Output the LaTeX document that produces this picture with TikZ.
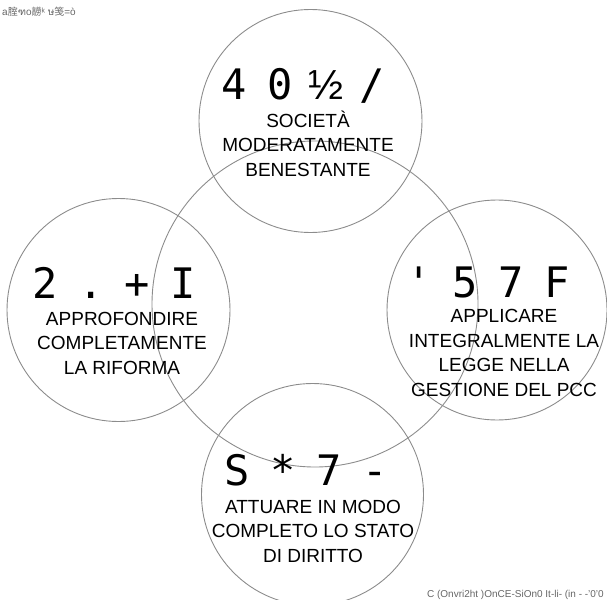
\documentclass[tikz,border=0pt]{standalone}
\usepackage{fontspec}
\setmainfont{Liberation Sans}
\setmonofont{DejaVu Sans Mono}
\newfontfamily\cjk{Noto Sans CJK SC}
\newfontfamily\thaifont[Script=Thai]{Loma}
\def\cell#1{\makebox[46pt]{#1}}
\def\codeline#1#2#3#4{\cell{#1}\cell{#2}\cell{#3}\cell{#4}}
\tikzstyle{ring}=[draw=black!45,line width=0.9pt,circle,inner sep=0pt]
\tikzstyle{code}=[anchor=base,inner sep=0pt,font=\ttfamily\fontsize{42}{42}\selectfont]
\tikzstyle{goal}=[anchor=base,inner sep=0pt,align=center,font=\fontsize{19}{24.5}\selectfont]
\tikzstyle{stamp}=[inner sep=0pt,text=black!60,font=\fontsize{10}{10}\selectfont]

\begin{document}
\begin{tikzpicture}[x=1pt,y=-1pt]
    \useasboundingbox (0,0) rectangle (607,599);
    % rings
    \node[ring,minimum size=326pt] (core) at (315,304) {};
    \node[ring,minimum size=223pt] (topring) at (310.5,121) {};
    \node[ring,minimum size=223pt] (leftring) at (118.5,310) {};
    \node[ring,minimum size=220pt] (rightring) at (497,310) {};
    \node[ring,minimum size=222pt] (bottomring) at (312.5,494.5) {};
    % top (goal nodes sit on their last baseline)
    \node[code] (topcode) at (303,100) {\codeline{4}{0}{\rmfamily ½}{/}};
    \node[goal] (topgoal) at (308,176) {SOCIETÀ\\MODERATAMENTE\\BENESTANTE};
    % left
    \node[code] (leftcode) at (114,298) {\codeline{2}{.}{+}{I}};
    \node[goal] (leftgoal) at (122,374) {APPROFONDIRE\\COMPLETAMENTE\\LA RIFORMA};
    % right
    \node[code] (rightcode) at (488,297) {\codeline{'}{5}{7}{F}};
    \node[goal] (rightgoal) at (504,396) {APPLICARE\\INTEGRALMENTE LA\\LEGGE NELLA\\GESTIONE DEL PCC};
    % bottom
    \node[code] (bottomcode) at (306,485) {\codeline{S}{*}{7}{-}};
    \node[goal] (bottomgoal) at (313,562) {ATTUARE IN MODO\\COMPLETO LO STATO\\DI DIRITTO};
    % corner marks
    \node[stamp,anchor=base west] (heading) at (2,16) {a{\cjk 腟}{\thaifont ฑ}o{\cjk 髝}ᵏ {\thaifont ษ}{\cjk 笺}=ò};
    \node[stamp,anchor=base east] (credit) at (604,597) {C (Onvri2ht )OnCE-SiOn0 It-li- (in - -'0'0};
\end{tikzpicture}
\end{document}
